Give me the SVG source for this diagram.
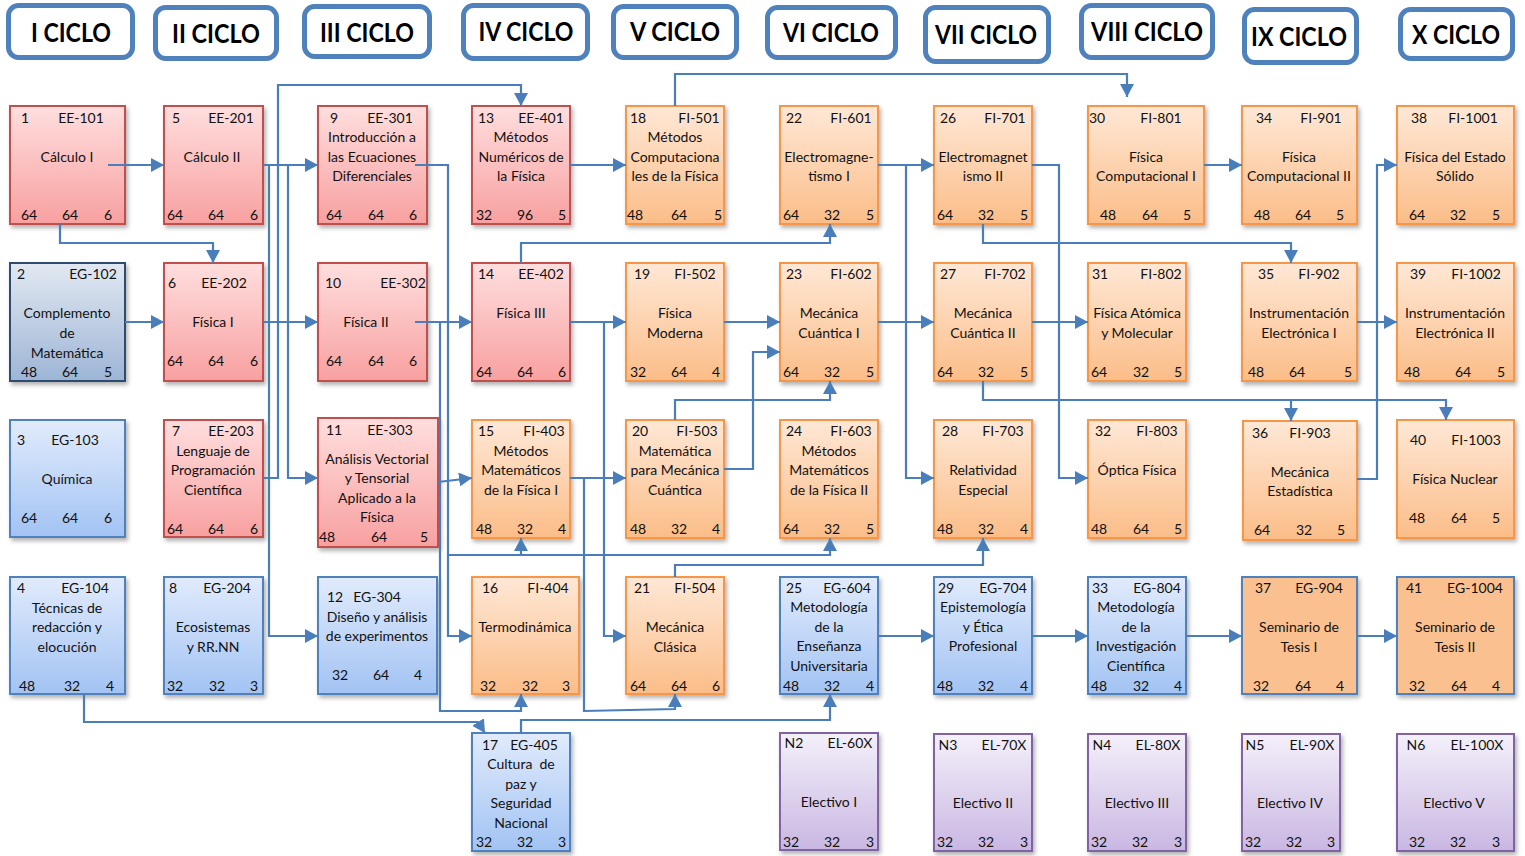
<svg xmlns="http://www.w3.org/2000/svg" width="1525" height="856" viewBox="0 0 1525 856">
<defs>
<linearGradient id="gRed" x1="0" y1="0" x2="0" y2="1"><stop offset="0" stop-color="#FFDEDE"/><stop offset="1" stop-color="#F8A0A0"/></linearGradient>
<linearGradient id="gOr" x1="0" y1="0" x2="0" y2="1"><stop offset="0" stop-color="#FFE8D6"/><stop offset="1" stop-color="#FBBD88"/></linearGradient>
<linearGradient id="gBl" x1="0" y1="0" x2="0" y2="1"><stop offset="0" stop-color="#E1EBFC"/><stop offset="1" stop-color="#A2C3F3"/></linearGradient>
<linearGradient id="gDb" x1="0" y1="0" x2="0" y2="1"><stop offset="0" stop-color="#E2E8F1"/><stop offset="1" stop-color="#9DB5D6"/></linearGradient>
<linearGradient id="gPu" x1="0" y1="0" x2="0" y2="1"><stop offset="0" stop-color="#F4F0FA"/><stop offset="1" stop-color="#C9B7E2"/></linearGradient>
<filter id="sh" x="-10%" y="-10%" width="130%" height="130%"><feDropShadow dx="2" dy="3" stdDeviation="2" flood-color="#000" flood-opacity="0.3"/></filter>
<marker id="a" markerUnits="userSpaceOnUse" markerWidth="14" markerHeight="14" refX="13" refY="7" orient="auto"><path d="M0,0 L13,7 L0,14 z" fill="#4A7EBB"/></marker>
</defs>
<style>
.h rect{fill:#fff;stroke:#4F81BD;stroke-width:5}
.h text{font-family:Lato,"Liberation Sans",sans-serif;font-weight:bold;font-size:27px;fill:#000;text-anchor:middle}
.n text{font-family:Lato,"Liberation Sans",sans-serif;font-size:14px;fill:#111;text-anchor:middle}
.n rect{stroke-width:2;filter:url(#sh)}
.red{fill:url(#gRed);stroke:#C0504D}
.or{fill:url(#gOr);stroke:#F79646}
.bl{fill:url(#gBl);stroke:#4F81BD}
.db{fill:url(#gDb);stroke:#2F4B70}
.pu{fill:url(#gPu);stroke:#8064A2}
.so{fill:#FAC090;stroke:#4F81BD}
.c path{fill:none;stroke:#4A7EBB;stroke-width:2.2;marker-end:url(#a)}
.c path.nm{marker-end:none}
</style>
<rect width="1525" height="856" fill="#fff"/>
<g id="headers" class="h">
<g id="h1"><rect x="8.5" y="5.5" width="124" height="52" rx="10"/><text x="71" y="42" textLength="80" lengthAdjust="spacingAndGlyphs">I CICLO</text></g>
<g id="h2"><rect x="155.5" y="7.5" width="121" height="51" rx="10"/><text x="216" y="43" textLength="88" lengthAdjust="spacingAndGlyphs">II CICLO</text></g>
<g id="h3"><rect x="304.5" y="6.5" width="125" height="50" rx="10"/><text x="367" y="42" textLength="94" lengthAdjust="spacingAndGlyphs">III CICLO</text></g>
<g id="h4"><rect x="463.5" y="5.5" width="124" height="53" rx="10"/><text x="526" y="41" textLength="95" lengthAdjust="spacingAndGlyphs">IV CICLO</text></g>
<g id="h5"><rect x="613.5" y="6.5" width="123" height="51" rx="10"/><text x="675" y="41" textLength="90" lengthAdjust="spacingAndGlyphs">V CICLO</text></g>
<g id="h6"><rect x="767.5" y="7.5" width="128" height="50" rx="10"/><text x="831" y="42" textLength="96" lengthAdjust="spacingAndGlyphs">VI CICLO</text></g>
<g id="h7"><rect x="925.5" y="7.5" width="123" height="54" rx="10"/><text x="986" y="44" textLength="102" lengthAdjust="spacingAndGlyphs">VII CICLO</text></g>
<g id="h8"><rect x="1081.5" y="5.5" width="131" height="52" rx="10"/><text x="1147" y="41" textLength="112" lengthAdjust="spacingAndGlyphs">VIII CICLO</text></g>
<g id="h9"><rect x="1244.5" y="9.5" width="112" height="53" rx="10"/><text x="1299" y="46" textLength="96" lengthAdjust="spacingAndGlyphs">IX CICLO</text></g>
<g id="h10"><rect x="1400.5" y="9.5" width="112" height="49" rx="10"/><text x="1456" y="44" textLength="88" lengthAdjust="spacingAndGlyphs">X CICLO</text></g>
</g>
<g id="nodes" class="n">
<g id="n1"><rect class="red" x="10" y="106" width="115" height="118"/><text x="25" y="123">1</text><text x="81" y="123">EE-101</text><text x="67" y="162">Cálculo I</text><text x="29" y="220">64</text><text x="70" y="220">64</text><text x="108" y="220">6</text></g>
<g id="n2"><rect class="db" x="10" y="263" width="115" height="118"/><text x="21" y="279">2</text><text x="93" y="279">EG-102</text><text x="67" y="318">Complemento</text><text x="67" y="338">de</text><text x="67" y="358">Matemática</text><text x="29" y="377">48</text><text x="70" y="377">64</text><text x="108" y="377">5</text></g>
<g id="n3"><rect class="bl" x="10" y="420" width="115" height="117"/><text x="21" y="445">3</text><text x="75" y="445">EG-103</text><text x="67" y="484">Química</text><text x="29" y="523">64</text><text x="70" y="523">64</text><text x="108" y="523">6</text></g>
<g id="n4"><rect class="bl" x="10" y="577" width="115" height="117"/><text x="21" y="593">4</text><text x="85" y="593">EG-104</text><text x="67" y="613">Técnicas de</text><text x="67" y="632">redacción y</text><text x="67" y="652">elocución</text><text x="27" y="691">48</text><text x="72" y="691">32</text><text x="110" y="691">4</text></g>
<g id="n5"><rect class="red" x="164" y="106" width="99" height="118"/><text x="176" y="123">5</text><text x="231" y="123">EE-201</text><text x="212" y="162">Cálculo II</text><text x="175" y="220">64</text><text x="216" y="220">64</text><text x="254" y="220">6</text></g>
<g id="n6"><rect class="red" x="164" y="263" width="99" height="118"/><text x="172" y="288">6</text><text x="224" y="288">EE-202</text><text x="213" y="327">Física I</text><text x="175" y="366">64</text><text x="216" y="366">64</text><text x="254" y="366">6</text></g>
<g id="n7"><rect class="red" x="164" y="420" width="99" height="117"/><text x="176" y="436">7</text><text x="231" y="436">EE-203</text><text x="213" y="456">Lenguaje de</text><text x="213" y="475">Programación</text><text x="213" y="495">Científica</text><text x="175" y="534">64</text><text x="216" y="534">64</text><text x="254" y="534">6</text></g>
<g id="n8"><rect class="bl" x="164" y="577" width="99" height="117"/><text x="173" y="593">8</text><text x="227" y="593">EG-204</text><text x="213" y="632">Ecosistemas</text><text x="213" y="652">y RR.NN</text><text x="175" y="691">32</text><text x="217" y="691">32</text><text x="254" y="691">3</text></g>
<g id="n9"><rect class="red" x="318" y="106" width="109" height="118"/><text x="334" y="123">9</text><text x="390" y="123">EE-301</text><text x="372" y="142">Introducción a</text><text x="372" y="162">las Ecuaciones</text><text x="372" y="181">Diferenciales</text><text x="334" y="220">64</text><text x="376" y="220">64</text><text x="413" y="220">6</text></g>
<g id="n10"><rect class="red" x="318" y="263" width="109" height="118"/><text x="333" y="288">10</text><text x="403" y="288">EE-302</text><text x="366" y="327">Física II</text><text x="334" y="366">64</text><text x="376" y="366">64</text><text x="413" y="366">6</text></g>
<g id="n11"><rect class="red" x="318" y="418" width="120" height="129"/><text x="334" y="435">11</text><text x="390" y="435">EE-303</text><text x="377" y="464">Análisis Vectorial</text><text x="377" y="483">y Tensorial</text><text x="377" y="503">Aplicado a la</text><text x="377" y="522">Física</text><text x="327" y="542">48</text><text x="379" y="542">64</text><text x="424" y="542">5</text></g>
<g id="n12"><rect class="bl" x="318" y="577" width="119" height="117"/><text x="335" y="602">12</text><text x="377" y="602">EG-304</text><text x="377" y="622">Diseño y análisis</text><text x="377" y="641">de experimentos</text><text x="340" y="680">32</text><text x="381" y="680">64</text><text x="418" y="680">4</text></g>
<g id="n13"><rect class="red" x="472" y="106" width="98" height="118"/><text x="486" y="123">13</text><text x="541" y="123">EE-401</text><text x="521" y="142">Métodos</text><text x="521" y="162">Numéricos de</text><text x="521" y="181">la Física</text><text x="484" y="220">32</text><text x="525" y="220">96</text><text x="562" y="220">5</text></g>
<g id="n14"><rect class="red" x="472" y="263" width="98" height="118"/><text x="486" y="279">14</text><text x="541" y="279">EE-402</text><text x="521" y="318">Física III</text><text x="484" y="377">64</text><text x="525" y="377">64</text><text x="562" y="377">6</text></g>
<g id="n15"><rect class="or" x="472" y="420" width="98" height="118"/><text x="486" y="436">15</text><text x="544" y="436">FI-403</text><text x="521" y="456">Métodos</text><text x="521" y="475">Matemáticos</text><text x="521" y="495">de la Física I</text><text x="484" y="534">48</text><text x="525" y="534">32</text><text x="562" y="534">4</text></g>
<g id="n16"><rect class="or" x="472" y="577" width="107" height="117"/><text x="490" y="593">16</text><text x="548" y="593">FI-404</text><text x="525" y="632">Termodinámica</text><text x="488" y="691">32</text><text x="530" y="691">32</text><text x="566" y="691">3</text></g>
<g id="n17"><rect class="bl" x="472" y="733" width="98" height="118"/><text x="490" y="750">17</text><text x="534" y="750">EG-405</text><text x="521" y="769" xml:space="preserve">Cultura  de</text><text x="521" y="789">paz y</text><text x="521" y="808">Seguridad</text><text x="521" y="828">Nacional</text><text x="484" y="847">32</text><text x="525" y="847">32</text><text x="562" y="847">3</text></g>
<g id="n18"><rect class="or" x="626" y="106" width="98" height="118"/><text x="638" y="123">18</text><text x="699" y="123">FI-501</text><text x="675" y="142">Métodos</text><text x="675" y="162">Computaciona</text><text x="675" y="181">les de la Física</text><text x="635" y="220">48</text><text x="679" y="220">64</text><text x="718" y="220">5</text></g>
<g id="n19"><rect class="or" x="626" y="263" width="98" height="118"/><text x="642" y="279">19</text><text x="695" y="279">FI-502</text><text x="675" y="318">Física</text><text x="675" y="338">Moderna</text><text x="638" y="377">32</text><text x="679" y="377">64</text><text x="716" y="377">4</text></g>
<g id="n20"><rect class="or" x="626" y="420" width="98" height="118"/><text x="640" y="436">20</text><text x="697" y="436">FI-503</text><text x="675" y="456">Matemática</text><text x="675" y="475">para Mecánica</text><text x="675" y="495">Cuántica</text><text x="638" y="534">48</text><text x="679" y="534">32</text><text x="716" y="534">4</text></g>
<g id="n21"><rect class="or" x="626" y="577" width="98" height="117"/><text x="642" y="593">21</text><text x="695" y="593">FI-504</text><text x="675" y="632">Mecánica</text><text x="675" y="652">Clásica</text><text x="638" y="691">64</text><text x="679" y="691">64</text><text x="716" y="691">6</text></g>
<g id="n22"><rect class="or" x="780" y="106" width="98" height="118"/><text x="794" y="123">22</text><text x="851" y="123">FI-601</text><text x="829" y="162">Electromagne-</text><text x="829" y="181">tismo I</text><text x="791" y="220">64</text><text x="832" y="220">32</text><text x="870" y="220">5</text></g>
<g id="n23"><rect class="or" x="780" y="263" width="98" height="118"/><text x="794" y="279">23</text><text x="851" y="279">FI-602</text><text x="829" y="318">Mecánica</text><text x="829" y="338">Cuántica I</text><text x="791" y="377">64</text><text x="832" y="377">32</text><text x="870" y="377">5</text></g>
<g id="n24"><rect class="or" x="780" y="420" width="98" height="118"/><text x="794" y="436">24</text><text x="851" y="436">FI-603</text><text x="829" y="456">Métodos</text><text x="829" y="475">Matemáticos</text><text x="829" y="495">de la Física II</text><text x="791" y="534">64</text><text x="832" y="534">32</text><text x="870" y="534">5</text></g>
<g id="n25"><rect class="bl" x="780" y="577" width="98" height="117"/><text x="794" y="593">25</text><text x="847" y="593">EG-604</text><text x="829" y="612">Metodología</text><text x="829" y="632">de la</text><text x="829" y="651">Enseñanza</text><text x="829" y="671">Universitaria</text><text x="791" y="691">48</text><text x="832" y="691">32</text><text x="870" y="691">4</text></g>
<g id="n26"><rect class="or" x="934" y="106" width="98" height="118"/><text x="948" y="123">26</text><text x="1005" y="123">FI-701</text><text x="983" y="162">Electromagnet</text><text x="983" y="181">ismo II</text><text x="945" y="220">64</text><text x="986" y="220">32</text><text x="1024" y="220">5</text></g>
<g id="n27"><rect class="or" x="934" y="263" width="98" height="118"/><text x="948" y="279">27</text><text x="1005" y="279">FI-702</text><text x="983" y="318">Mecánica</text><text x="983" y="338">Cuántica II</text><text x="945" y="377">64</text><text x="986" y="377">32</text><text x="1024" y="377">5</text></g>
<g id="n28"><rect class="or" x="934" y="420" width="98" height="118"/><text x="950" y="436">28</text><text x="1003" y="436">FI-703</text><text x="983" y="475">Relatividad</text><text x="983" y="495">Especial</text><text x="945" y="534">48</text><text x="986" y="534">32</text><text x="1024" y="534">4</text></g>
<g id="n29"><rect class="bl" x="934" y="577" width="98" height="117"/><text x="946" y="593">29</text><text x="1003" y="593">EG-704</text><text x="983" y="612">Epistemología</text><text x="983" y="632">y Ética</text><text x="983" y="651">Profesional</text><text x="945" y="691">48</text><text x="986" y="691">32</text><text x="1024" y="691">4</text></g>
<g id="n30"><rect class="or" x="1088" y="106" width="116" height="118"/><text x="1097" y="123">30</text><text x="1161" y="123">FI-801</text><text x="1146" y="162">Física</text><text x="1146" y="181">Computacional I</text><text x="1108" y="220">48</text><text x="1150" y="220">64</text><text x="1187" y="220">5</text></g>
<g id="n31"><rect class="or" x="1088" y="263" width="98" height="118"/><text x="1100" y="279">31</text><text x="1161" y="279">FI-802</text><text x="1137" y="318">Física Atómica</text><text x="1137" y="338">y Molecular</text><text x="1099" y="377">64</text><text x="1141" y="377">32</text><text x="1178" y="377">5</text></g>
<g id="n32"><rect class="or" x="1088" y="420" width="98" height="118"/><text x="1103" y="436">32</text><text x="1157" y="436">FI-803</text><text x="1137" y="475">Óptica Física</text><text x="1099" y="534">48</text><text x="1141" y="534">64</text><text x="1178" y="534">5</text></g>
<g id="n33"><rect class="bl" x="1088" y="577" width="98" height="117"/><text x="1100" y="593">33</text><text x="1157" y="593">EG-804</text><text x="1136" y="612">Metodología</text><text x="1136" y="632">de la</text><text x="1136" y="651">Investigación</text><text x="1136" y="671">Científica</text><text x="1099" y="691">48</text><text x="1141" y="691">32</text><text x="1178" y="691">4</text></g>
<g id="n34"><rect class="or" x="1242" y="106" width="115" height="118"/><text x="1264" y="123">34</text><text x="1321" y="123">FI-901</text><text x="1299" y="162">Física</text><text x="1299" y="181">Computacional II</text><text x="1262" y="220">48</text><text x="1303" y="220">64</text><text x="1340" y="220">5</text></g>
<g id="n35"><rect class="or" x="1242" y="263" width="115" height="118"/><text x="1266" y="279">35</text><text x="1319" y="279">FI-902</text><text x="1299" y="318">Instrumentación</text><text x="1299" y="338">Electrónica I</text><text x="1256" y="377">48</text><text x="1297" y="377">64</text><text x="1348" y="377">5</text></g>
<g id="n36"><rect class="or" x="1243" y="421" width="114" height="119"/><text x="1260" y="438">36</text><text x="1310" y="438">FI-903</text><text x="1300" y="477">Mecánica</text><text x="1300" y="496">Estadística</text><text x="1262" y="535">64</text><text x="1304" y="535">32</text><text x="1341" y="535">5</text></g>
<g id="n37"><rect class="so" x="1242" y="577" width="115" height="117"/><text x="1263" y="593">37</text><text x="1319" y="593">EG-904</text><text x="1299" y="632">Seminario de</text><text x="1299" y="652">Tesis I</text><text x="1261" y="691">32</text><text x="1303" y="691">64</text><text x="1340" y="691">4</text></g>
<g id="n38"><rect class="or" x="1397" y="106" width="117" height="118"/><text x="1419" y="123">38</text><text x="1473" y="123">FI-1001</text><text x="1455" y="162">Física del Estado</text><text x="1455" y="181">Sólido</text><text x="1417" y="220">64</text><text x="1458" y="220">32</text><text x="1496" y="220">5</text></g>
<g id="n39"><rect class="or" x="1397" y="263" width="117" height="118"/><text x="1418" y="279">39</text><text x="1476" y="279">FI-1002</text><text x="1455" y="318">Instrumentación</text><text x="1455" y="338">Electrónica II</text><text x="1412" y="377">48</text><text x="1463" y="377">64</text><text x="1501" y="377">5</text></g>
<g id="n40"><rect class="or" x="1397" y="420" width="117" height="118"/><text x="1418" y="445">40</text><text x="1476" y="445">FI-1003</text><text x="1455" y="484">Física Nuclear</text><text x="1417" y="523">48</text><text x="1459" y="523">64</text><text x="1496" y="523">5</text></g>
<g id="n41"><rect class="so" x="1397" y="577" width="117" height="117"/><text x="1414" y="593">41</text><text x="1475" y="593">EG-1004</text><text x="1455" y="632">Seminario de</text><text x="1455" y="652">Tesis II</text><text x="1417" y="691">32</text><text x="1459" y="691">64</text><text x="1496" y="691">4</text></g>
<g id="e2"><rect class="pu" x="780" y="733" width="98" height="117"/><text x="794" y="748">N2</text><text x="850" y="748">EL-60X</text><text x="829" y="807">Electivo I</text><text x="791" y="847">32</text><text x="832" y="847">32</text><text x="870" y="847">3</text></g>
<g id="e3"><rect class="pu" x="934" y="734" width="98" height="117"/><text x="948" y="750">N3</text><text x="1004" y="750">EL-70X</text><text x="983" y="808">Electivo II</text><text x="945" y="847">32</text><text x="986" y="847">32</text><text x="1024" y="847">3</text></g>
<g id="e4"><rect class="pu" x="1088" y="734" width="98" height="117"/><text x="1102" y="750">N4</text><text x="1158" y="750">EL-80X</text><text x="1137" y="808">Electivo III</text><text x="1099" y="847">32</text><text x="1140" y="847">32</text><text x="1178" y="847">3</text></g>
<g id="e5"><rect class="pu" x="1242" y="734" width="98" height="117"/><text x="1255" y="750">N5</text><text x="1312" y="750">EL-90X</text><text x="1290" y="808">Electivo IV</text><text x="1253" y="847">32</text><text x="1294" y="847">32</text><text x="1331" y="847">3</text></g>
<g id="e6"><rect class="pu" x="1397" y="734" width="117" height="117"/><text x="1416" y="750">N6</text><text x="1477" y="750">EL-100X</text><text x="1454" y="808">Electivo V</text><text x="1417" y="847">32</text><text x="1458" y="847">32</text><text x="1496" y="847">3</text></g>
</g>
<g id="connectors" class="c">
<path d="M108,165 H164"/>
<path d="M60,224 V243 H213 V263"/>
<path d="M125,322 H164"/>
<path d="M263,165 H318"/>
<path d="M288,165 V478 H318"/>
<path d="M269,165 V636 H318"/>
<path d="M263,478 H278 V85 H521 V106"/>
<path d="M263,322 H318"/>
<path d="M415,165 H448 V636 H472"/>
<path d="M448,555 H830 V538"/>
<path d="M521,555 V538"/>
<path d="M415,322 H472"/>
<path d="M440,322 V711 H521 V694"/>
<path d="M438,482 L472,478"/>
<path d="M570,165 H626"/>
<path d="M570,322 H626"/>
<path d="M604,322 V636 H626"/>
<path d="M521,263 V243 H830 V224"/>
<path d="M570,478 H626"/>
<path d="M584,478 V711 L675,709 V694"/>
<path d="M675,106 V74 H1127 V97"/>
<path d="M724,322 H780"/>
<path d="M724,469 H753 V352 H780"/>
<path d="M675,420 V400 H830 V381"/>
<path d="M675,577 V565 H983 V538"/>
<path d="M521,733 V720 H830 V694"/>
<path d="M84,694 V722 H478 L485,733"/>
<path d="M878,165 H934"/>
<path d="M906,165 V478 H934"/>
<path d="M878,322 H934"/>
<path d="M1032,165 H1059 V478 H1088"/>
<path d="M983,224 V243 H1291 V263"/>
<path d="M1032,322 H1088"/>
<path d="M983,381 V400 H1446 V420"/>
<path d="M1291,400 V421"/>
<path d="M1204,165 H1242"/>
<path d="M1357,322 H1397"/>
<path d="M1357,479 H1377 V165 H1397"/>
<path d="M878,636 H934"/>
<path d="M1032,636 H1088"/>
<path d="M1186,636 H1242"/>
<path d="M1357,636 H1397"/>
</g>
</svg>
